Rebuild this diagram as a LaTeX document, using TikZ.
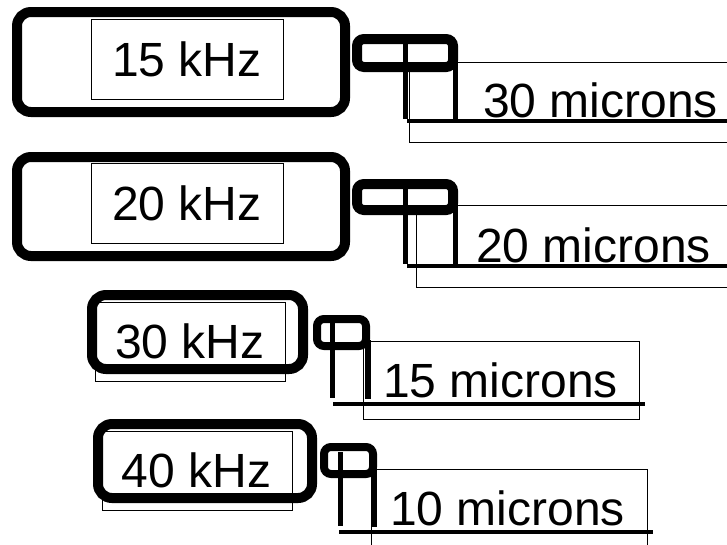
\documentclass[tikz,border=0pt]{standalone}
\usepackage{fontspec}
\setmainfont{Liberation Sans}
\begin{document}
\begin{tikzpicture}[x=1pt,y=-1pt,
  frame/.style={line width=10pt,rounded corners=14pt},
  hornbox/.style={line width=#1,rounded corners=7pt},
  thinline/.style={line width=1pt},
  leg/.style={line width=#1},
  bar/.style={line width=4pt},
  lbl/.style={font=\fontsize{48}{48}\selectfont,inner sep=0pt},
  khz/.style={draw,line width=1pt,font=\fontsize{48}{48}\selectfont,inner sep=0pt,minimum width=#1,minimum height=80pt}]
\useasboundingbox (0,0) rectangle (727,544);
% ---------- row 1 ----------
\draw[frame] (17,12) rectangle (345,112);
\node[khz=192pt] (k1) at (187,59) {15 kHz};
\draw[thinline] (409,62) rectangle (760,142);
\draw[leg=4.5pt] (405.5,44) -- (405.5,119);
\draw[leg=5pt] (455.5,60) -- (455.5,119);
\draw[bar] (407,121) -- (760,121);
\draw[hornbox=10pt] (357,39) rectangle (453,67);
\node[lbl,anchor=base west] (m1) at (483,117) {30 microns};
% ---------- row 2 ----------
\draw[frame] (17,157) rectangle (345,256);
\node[khz=192pt] (k2) at (187,203.5) {20 kHz};
\draw[thinline] (416,205) rectangle (760,287);
\draw[leg=4.5pt] (405.5,189) -- (405.5,264);
\draw[leg=5pt] (455.5,205) -- (455.5,264);
\draw[bar] (407,266) -- (760,266);
\draw[hornbox=10pt] (357,184) rectangle (453,210);
\node[lbl,anchor=base west] (m2) at (476,262) {20 microns};
% ---------- row 3 ----------
\draw[thinline] (95,302) rectangle (285,381);
\draw[frame] (92,295) rectangle (303,369);
\node[lbl,anchor=base] (k3) at (190,358) {30 kHz};
\draw[thinline] (363,341) rectangle (639,419);
\draw[leg=5pt] (332.5,323) -- (332.5,398);
\draw[leg=5.5pt] (368,340) -- (368,399);
\draw[bar] (333,404) -- (645,404);
\draw[hornbox=8pt] (317,319) rectangle (366,346);
\node[lbl,anchor=base west] (m3) at (383,397) {15 microns};
% ---------- row 4 ----------
\draw[thinline] (102,431) rectangle (292,510);
\draw[frame] (98,424) rectangle (312,498);
\node[lbl,anchor=base] (k4) at (196.5,487) {40 kHz};
\draw[thinline] (371,469) rectangle (647,580);
\draw[leg=5pt] (340,452) -- (340,526);
\draw[leg=6pt] (374,468) -- (374,527);
\draw[bar] (339,531.5) -- (653,531.5);
\draw[hornbox=8pt] (324,447) rectangle (373,474);
\node[lbl,anchor=base west] (m4) at (390,525) {10 microns};
\end{tikzpicture}
\end{document}
